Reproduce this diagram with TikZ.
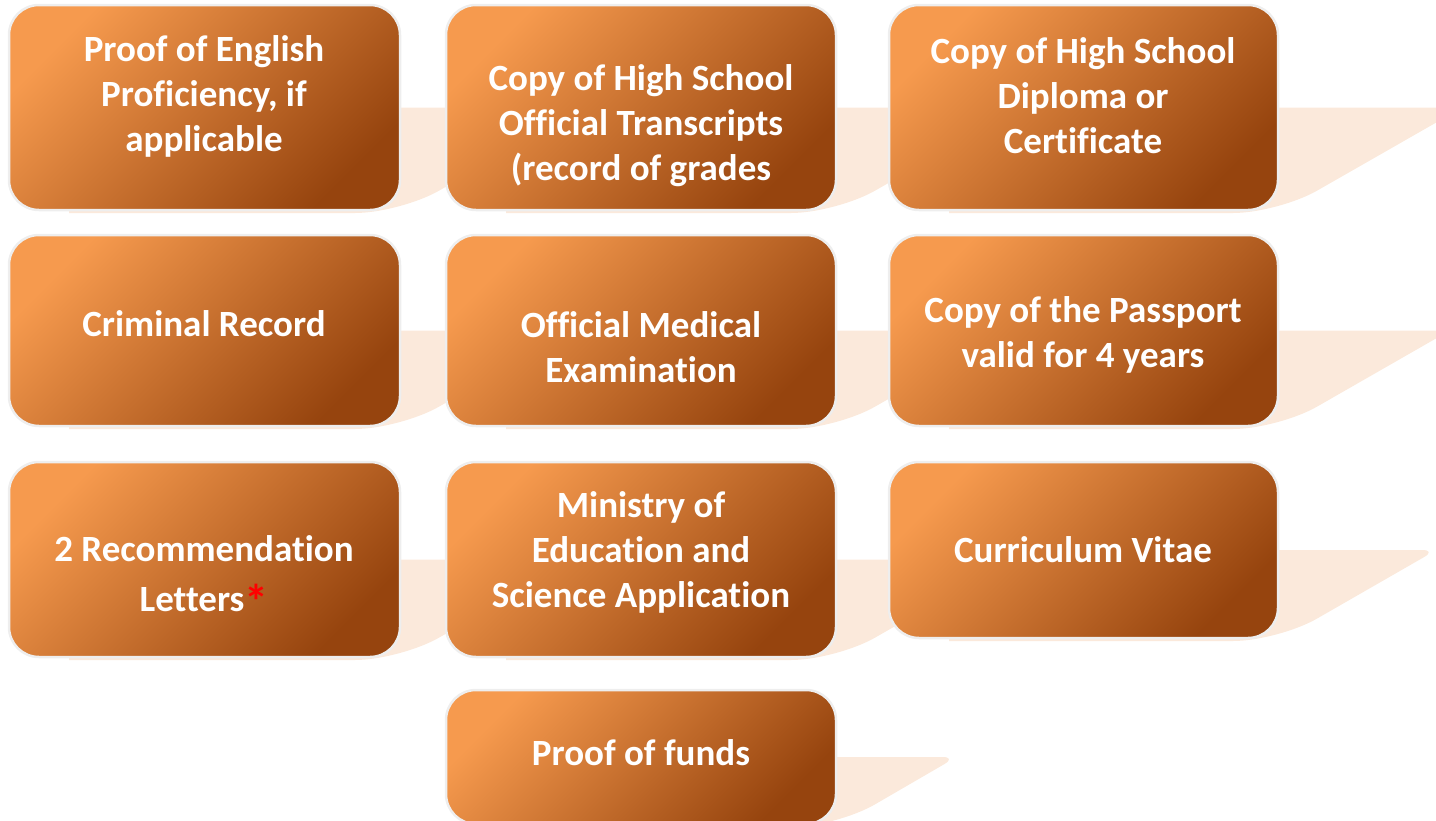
\documentclass[tikz,border=0pt]{standalone}
\usepackage{fontspec}
\setmainfont{Carlito}[Ligatures={NoCommon,NoContextual}]
\definecolor{boxlight}{RGB}{246,154,78}
\definecolor{boxdark}{RGB}{150,68,14}
\definecolor{shadowc}{RGB}{251,233,219}
\definecolor{edgec}{RGB}{238,238,238}
\tikzset{
  docbox/.style={rectangle, rounded corners=30pt, draw=edgec, line width=2.5pt,
    top color=boxlight, bottom color=boxdark, shading angle=45, inner sep=0pt},
  doctext/.style={text=white, font=\fontsize{37}{45}\selectfont\bfseries,
    align=center, inner sep=0pt},
  reflect/.style={fill=shadowc}
}
% reflection band behind a box: left, right, top, bottom
\newcommand\reflband[4]{%
  \pgfmathsetmacro\hh{#4-#3}%
  \pgfmathsetmacro\mm{#3+0.5*\hh}%
  \pgfmathsetmacro\px{#2+0.9*\hh}%
  \fill[reflect] (#1+60,\mm) [rounded corners=14pt] -- (\px,\mm)
     [rounded corners=45pt] -- (#2,#4+3) [sharp corners] -- (#1+60,#4+3) -- cycle;
}
% box: name, left, right, top, bottom
\newcommand\docnode[5]{%
  \pgfmathsetmacro\ww{#3-#2}%
  \pgfmathsetmacro\hh{#5-#4}%
  \node[docbox, minimum width=\ww pt, minimum height=\hh pt] (#1) at ({(#2+#3)/2},{(#4+#5)/2}) {};
}
\begin{document}
\begin{tikzpicture}[x=1pt,y=-1pt]
\useasboundingbox (0,0) rectangle (1436,820);
\clip (0,0) rectangle (1436,820);
% reflections
\reflband{9}{400}{5}{210}
\reflband{446}{836}{5}{210}
\reflband{889}{1278}{5}{210}
\reflband{9}{400}{235}{426}
\reflband{446}{836}{235}{426}
\reflband{889}{1278}{235}{426}
\reflband{9}{400}{462}{657}
\reflband{446}{836}{462}{657}
\reflband{889}{1278}{462}{638}
\reflband{446}{836}{690}{824}
% boxes
\docnode{b11}{9}{400}{5}{210}
\docnode{b12}{446}{836}{5}{210}
\docnode{b13}{889}{1278}{5}{210}
\docnode{b21}{9}{400}{235}{426}
\docnode{b22}{446}{836}{235}{426}
\docnode{b23}{889}{1278}{235}{426}
\docnode{b31}{9}{400}{462}{657}
\docnode{b32}{446}{836}{462}{657}
\docnode{b33}{889}{1278}{462}{638}
\docnode{b42}{446}{836}{690}{824}
% texts
\node[doctext] (t11) at (204,96) {Proof of English\\Proficiency, if\\applicable};
\node[doctext] (t12) at (641,126) {Copy of High School\\Official Transcripts\\(record of grades};
\node[doctext] (t13) at (1083,96) {Copy of High School\\Diploma or\\Certificate};
\node[doctext] (t21) at (204,324) {Criminal Record};
\node[doctext] (t22) at (641,347) {Official Medical\\Examination};
\node[doctext] (t23) at (1083,335) {Copy of the Passport\\valid for 4 years};
\node[doctext] (t31) at (204,577) {2 Recommendation\\[5pt]Letters\raisebox{-7pt}{\color{red}\fontsize{48}{45}\selectfont*}};
\node[doctext] (t32) at (641,552) {Ministry of\\Education and\\Science Application};
\node[doctext] (t33) at (1083,550) {Curriculum Vitae};
\node[doctext] (t42) at (641,753) {Proof of funds};
\end{tikzpicture}
\end{document}
